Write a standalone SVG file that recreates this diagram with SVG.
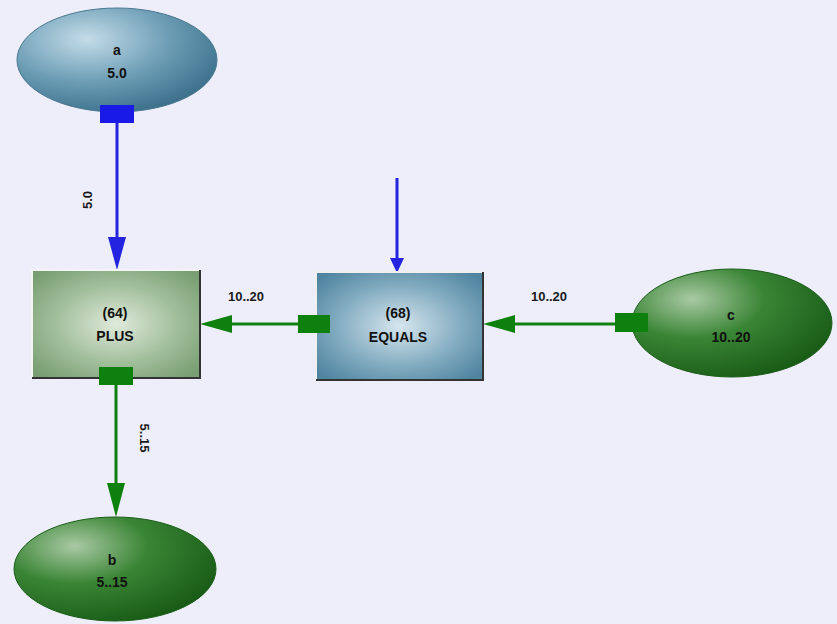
<svg xmlns="http://www.w3.org/2000/svg" width="837" height="624" viewBox="0 0 837 624">
<style>
text{font-family:"Liberation Sans",Arial,sans-serif;font-weight:bold;font-size:14px;fill:#111;text-anchor:middle}
.lbl{font-weight:bold;font-size:13px;fill:#1a1a1a}
.blue{stroke:#2424e0;stroke-width:3;fill:none}
.green{stroke:#0e800e;stroke-width:3;fill:none}
.bh{fill:#2424e0}
.gh{fill:#0e800e}
</style>
<defs>
<radialGradient id="gBlueE" cx="0.35" cy="0.3" r="0.75">
<stop offset="0" stop-color="#c4dce8"/><stop offset="0.55" stop-color="#6c9db5"/><stop offset="1" stop-color="#3b6f8a"/>
</radialGradient>
<radialGradient id="gGreenE" cx="0.3" cy="0.28" r="0.8">
<stop offset="0" stop-color="#a9c9a4"/><stop offset="0.45" stop-color="#3a8535"/><stop offset="1" stop-color="#175a15"/>
</radialGradient>
<radialGradient id="gPlus" cx="0.5" cy="0.5" r="0.65">
<stop offset="0" stop-color="#dfeadb"/><stop offset="0.55" stop-color="#a2bf9c"/><stop offset="1" stop-color="#789e72"/>
</radialGradient>
<radialGradient id="gEq" cx="0.5" cy="0.5" r="0.65">
<stop offset="0" stop-color="#d6e6ee"/><stop offset="0.6" stop-color="#7fa9be"/><stop offset="1" stop-color="#4f84a0"/>
</radialGradient>
</defs>
<rect width="837" height="624" fill="#eeeefa"/>

<g id="connectors">
<line class="blue" x1="117" y1="123" x2="117" y2="245"/>
<polygon class="bh" points="108,237 126,237 117,270"/>
<text class="lbl" transform="translate(92,200) rotate(-90)">5.0</text>

<line class="blue" x1="397" y1="178" x2="397" y2="262"/>
<polygon class="bh" points="390,258 404,258 397,273"/>

<line class="green" x1="225" y1="324" x2="300" y2="324"/>
<polygon class="gh" points="232,315 232,333 200,324"/>
<text class="lbl" x="246" y="301">10..20</text>

<line class="green" x1="508" y1="324" x2="616" y2="324"/>
<polygon class="gh" points="515,315 515,333 483,324"/>
<text class="lbl" x="549" y="301">10..20</text>

<line class="green" x1="116" y1="385" x2="116" y2="490"/>
<polygon class="gh" points="107,483 125,483 116,517"/>
<text class="lbl" transform="translate(140,438) rotate(90)">5..15</text>
</g>

<g id="node-a">
<ellipse cx="117" cy="60" rx="100" ry="52" fill="url(#gBlueE)" stroke="#4a7890" stroke-width="1"/>
<text x="117" y="55">a</text>
<text x="117" y="78">5.0</text>
<rect x="100" y="105" width="34" height="18" fill="#1a1ae6"/>
</g>

<g id="node-plus">
<rect x="32" y="270" width="168" height="108" fill="url(#gPlus)"/>
<path d="M32,378 V270 H200" fill="none" stroke="#f4f4f4" stroke-width="2"/>
<path d="M200,270 V378 H32" fill="none" stroke="#333" stroke-width="2"/>
<text x="115" y="318">(64)</text>
<text x="115" y="341">PLUS</text>
<rect x="99" y="367" width="34" height="18" fill="#0e800e"/>
</g>

<g id="node-equals">
<rect x="316" y="272" width="167" height="108" fill="url(#gEq)"/>
<path d="M316,380 V272 H483" fill="none" stroke="#f0f0f0" stroke-width="2"/>
<path d="M483,272 V380 H316" fill="none" stroke="#333" stroke-width="2"/>
<text x="398" y="318">(68)</text>
<text x="398" y="342">EQUALS</text>
<rect x="298" y="315" width="32" height="18" fill="#0e800e"/>
</g>

<g id="node-c">
<ellipse cx="732" cy="323" rx="100" ry="54" fill="url(#gGreenE)" stroke="#1a5e18" stroke-width="1"/>
<text x="731" y="320">c</text>
<text x="731" y="342">10..20</text>
<rect x="615" y="313" width="33" height="19" fill="#0e800e"/>
</g>

<g id="node-b">
<ellipse cx="115" cy="569" rx="101" ry="52" fill="url(#gGreenE)" stroke="#1a5e18" stroke-width="1"/>
<text x="112" y="565">b</text>
<text x="112" y="587">5..15</text>
</g>
</svg>
